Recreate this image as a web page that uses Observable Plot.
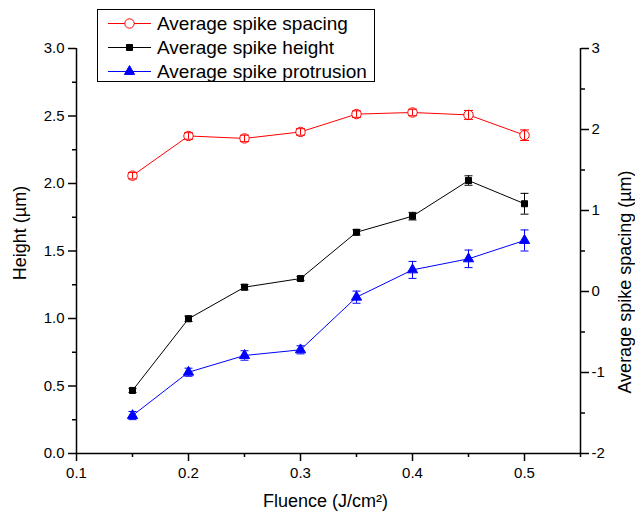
<!DOCTYPE html>
<html><head><meta charset="utf-8">
<script src="https://cdn.jsdelivr.net/npm/d3@7"></script>
<script src="https://cdn.jsdelivr.net/npm/@observablehq/plot@0.6"></script>
<style>
body{margin:0;background:#fff;font-family:"Liberation Sans",Arial,sans-serif;}
#wrap{position:relative;width:635px;height:520px;}
#legend{position:absolute;left:97px;top:9px;width:276px;height:71px;border:1px solid #000;background:#fff;}
</style></head>
<body><div id="wrap"><div id="chart"></div><div id="legend"></div></div>
<script>
// ---- data ----
const fluence = [0.15, 0.20, 0.25, 0.30, 0.35, 0.40, 0.45, 0.50];
const spacing = [1.43, 1.92, 1.89, 1.97, 2.19, 2.21, 2.18, 1.93];      // right axis (µm)
const spacingErr = [0.04, 0.04, 0.04, 0.04, 0.04, 0.04, 0.055, 0.065];
const height = [0.467, 0.998, 1.232, 1.296, 1.639, 1.758, 2.022, 1.85]; // left axis (µm)
const heightErr = [0.015, 0.02, 0.02, 0.015, 0.02, 0.028, 0.035, 0.077];
const protrusion = [0.281, 0.602, 0.726, 0.768, 1.158, 1.36, 1.442, 1.578];
const protrusionErr = [0.03, 0.03, 0.035, 0.03, 0.045, 0.063, 0.065, 0.078];
const seriesNames = ["Average spike spacing", "Average spike height", "Average spike protrusion"];
const xTicks = [0.1, 0.2, 0.3, 0.4, 0.5];
const xMinor = [0.15, 0.25, 0.35, 0.45, 0.55];
const yTicks = [0, 0.5, 1.0, 1.5, 2.0, 2.5, 3.0];
const yMinor = [0.25, 0.75, 1.25, 1.75, 2.25, 2.75];
const rTicks = [-2, -1, 0, 1, 2, 3];
const rMinor = [-1.5, -0.5, 0.5, 1.5, 2.5];
const xTitle = "Fluence (J/cm²)";
const yTitle = "Height (µm)";
const rTitle = "Average spike spacing (µm)";

// right axis [-2,3] maps onto left axis [0,3]
const toLeft = r => (r + 2) * 0.6;
const fromLeft = l => l / 0.6 - 2;

const mk = (vals, errs, conv = v => v) => fluence.map((x, i) => ({
  x, y: conv(vals[i]), lo: conv(vals[i] - errs[i]), hi: conv(vals[i] + errs[i])
}));
const sp = mk(spacing, spacingErr, toLeft);
const ht = mk(height, heightErr);
const pr = mk(protrusion, protrusionErr);

const cap = {draw(ctx, size){ const r = Math.sqrt(size/Math.PI); ctx.moveTo(-r,0); ctx.lineTo(r,0); }};

function series(data, color, symbol, r, fill, capR) {
  return [
    Plot.line(data, {x:"x", y:"y", stroke:color, strokeWidth:1}),
    Plot.dot(data, {x:"x", y:"y", symbol, r, fill, stroke:color, strokeWidth:1}),
    Plot.ruleX(data, {x:"x", y1:"lo", y2:"hi", stroke:color, strokeWidth:1}),
    Plot.dot(data, {x:"x", y:"lo", symbol:cap, r:capR, stroke:color, strokeWidth:1}),
    Plot.dot(data, {x:"x", y:"hi", symbol:cap, r:capR, stroke:color, strokeWidth:1})
  ];
}

const font = "Liberation Sans, Arial, sans-serif";
const chart = Plot.plot({
  width: 635, height: 520,
  marginLeft: 76, marginRight: 55, marginTop: 48, marginBottom: 67,
  style: {fontFamily: font, color: "#000", background: "#fff"},
  x: {domain: [0.1, 0.55]},
  y: {domain: [0, 3]},
  marks: [
    Plot.axisX(xTicks, {tickSize: 8, tickPadding: 6, fontSize: 15, strokeWidth: 1.5, tickFormat: d => d.toFixed(1), label: null}),
    Plot.axisX(xMinor, {tickSize: 4, strokeWidth: 1.5, tickFormat: () => "", label: null}),
    Plot.axisY(yTicks, {anchor: "left", tickSize: 8, tickPadding: 4, fontSize: 15, strokeWidth: 1.5, tickFormat: d => d.toFixed(1), label: null}),
    Plot.axisY(yMinor, {anchor: "left", tickSize: 4, strokeWidth: 1.5, tickFormat: () => "", label: null}),
    Plot.axisY(rTicks.map(toLeft), {anchor: "right", tickSize: 8, tickPadding: 3, fontSize: 15, strokeWidth: 1.5, tickFormat: d => String(Math.round(fromLeft(d))), label: null}),
    Plot.axisY(rMinor.map(toLeft), {anchor: "right", tickSize: 4, strokeWidth: 1.5, tickFormat: () => "", label: null}),
    Plot.ruleX([0.1], {strokeWidth: 1.5}),
    Plot.ruleX([0.55], {strokeWidth: 1.5}),
    Plot.ruleY([0], {strokeWidth: 1.5}),
    ...series(sp, "#ff0000", "circle", 4.7, "#fff", 4.5),
    ...series(ht, "#000000", "square", 3.4, "#000", 4),
    ...series(pr, "#0000ff", "triangle", 3.8, "#0000ff", 4),
    Plot.text([xTitle], {text: d => d, frameAnchor: "bottom", dx: -3, dy: 48, fontSize: 18, textAnchor: "middle", lineAnchor: "middle"}),
    Plot.text([yTitle], {text: d => d, frameAnchor: "left", dx: -56, dy: -18, rotate: -90, fontSize: 18, textAnchor: "middle", lineAnchor: "middle"}),
    Plot.text([rTitle], {text: d => d, frameAnchor: "right", dx: 45, dy: 31, rotate: -90, fontSize: 18, textAnchor: "middle", lineAnchor: "middle"})
  ]
});
document.getElementById("chart").appendChild(chart);

// ---- legend ----
const legendStyles = [
  {color: "#ff0000", symbol: d3.symbolCircle, r: 4.7, fill: "#fff"},
  {color: "#000000", symbol: d3.symbolSquare, r: 3.4, fill: "#000"},
  {color: "#0000ff", symbol: d3.symbolTriangle, r: 3.8, fill: "#0000ff"}
];
const lsvg = d3.select("#legend").append("svg").attr("width", 276).attr("height", 71)
  .style("font-family", font);
seriesNames.forEach((name, i) => {
  const s = legendStyles[i];
  const g = lsvg.append("g").attr("transform", `translate(0,${13.5 + i * 24})`);
  g.append("line").attr("x1", 10).attr("x2", 53).attr("y1", 0).attr("y2", 0)
    .attr("stroke", s.color).attr("stroke-width", 1);
  g.append("path").attr("transform", "translate(31.5,0)")
    .attr("d", d3.symbol(s.symbol, s.r * s.r * Math.PI)())
    .attr("fill", s.fill).attr("stroke", s.color).attr("stroke-width", 1);
  g.append("text").attr("x", 59).attr("y", 0).attr("dy", "0.35em")
    .attr("font-size", 19).attr("fill", "#000").text(name);
});
</script>
</body></html>
